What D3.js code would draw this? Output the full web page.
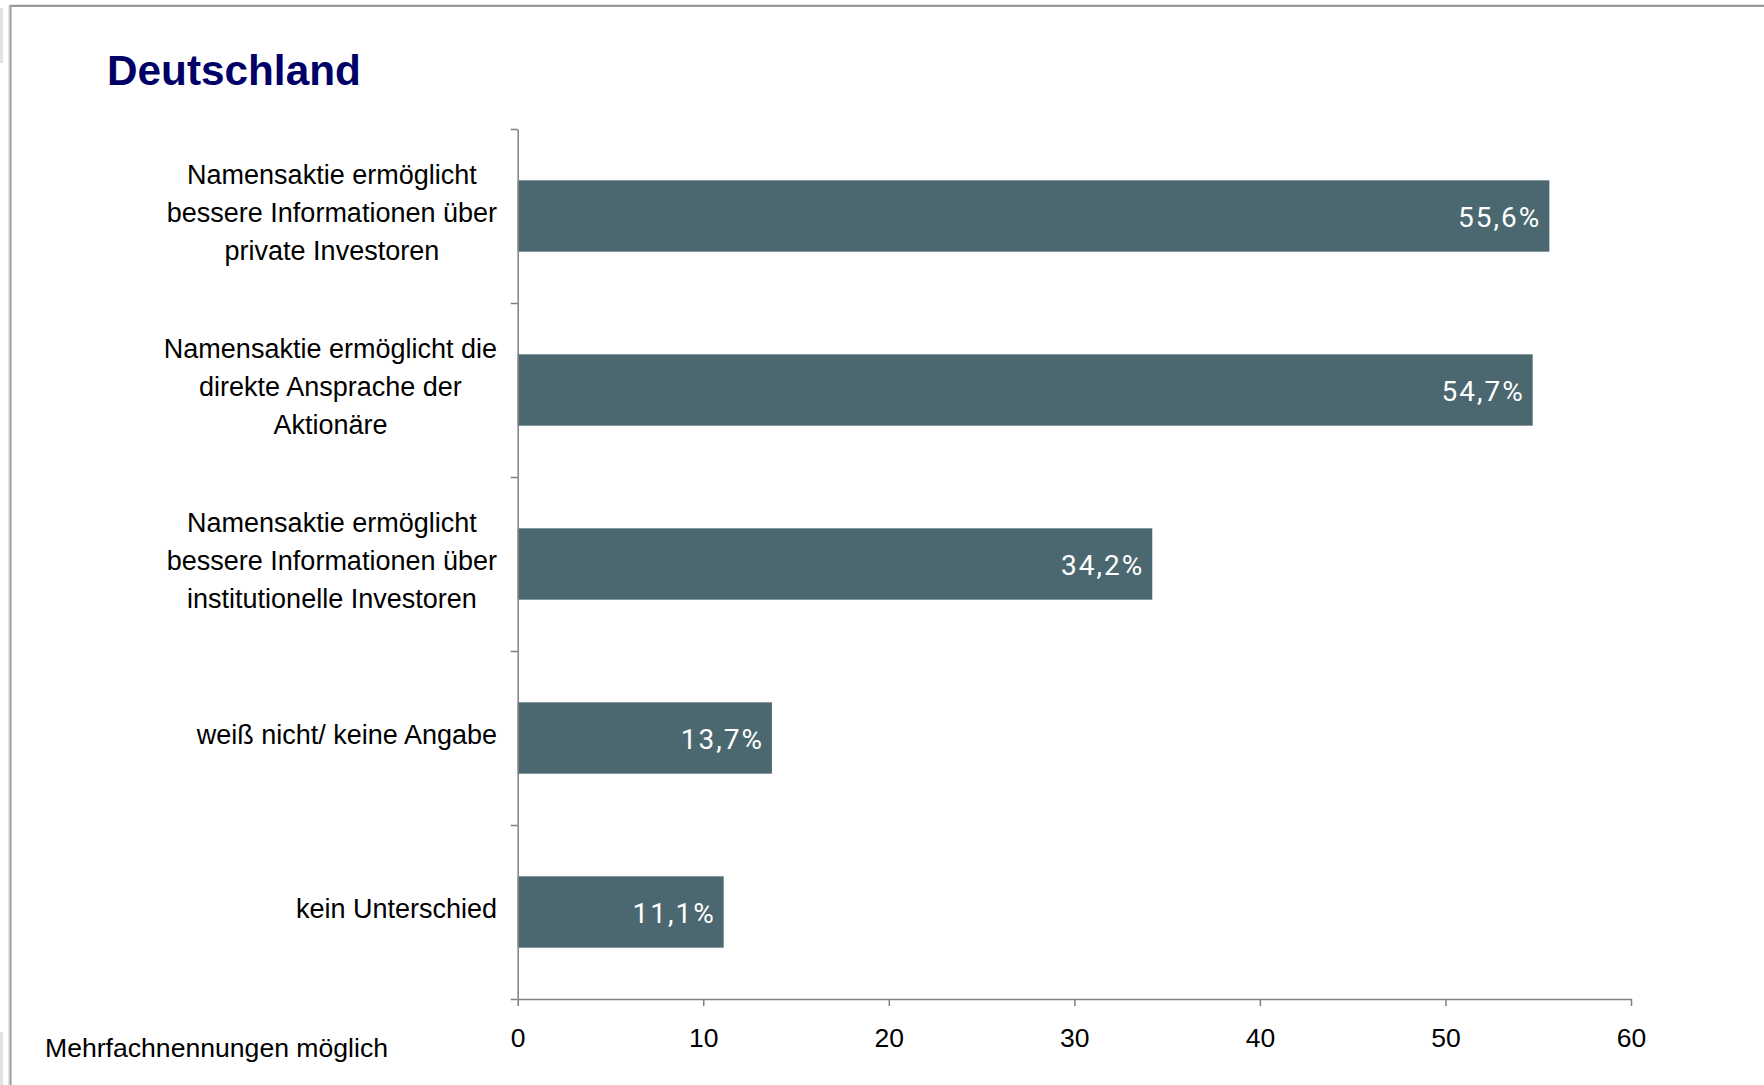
<!DOCTYPE html>
<html>
<head>
<meta charset="utf-8">
<script src="https://cdn.jsdelivr.net/npm/d3@7"></script>
<style>
  html, body { margin: 0; padding: 0; background: #ffffff; }
  svg { display: block; }
</style>
</head>
<body>
<svg id="chart" width="1764" height="1085"></svg>
<script>
// Reasons given for the registered share (multiple answers possible)
const categories = [
  "Namensaktie ermöglicht\nbessere Informationen über\nprivate Investoren",
  "Namensaktie ermöglicht die\ndirekte Ansprache der\nAktionäre",
  "Namensaktie ermöglicht\nbessere Informationen über\ninstitutionelle Investoren",
  "weiß nicht/ keine Angabe",
  "kein Unterschied"
];
const values = [55.6, 54.7, 34.2, 13.7, 11.1];
const xTicks = [0, 10, 20, 30, 40, 50, 60];
const titleText = "Deutschland";
const noteText = "Mehrfachnennungen möglich";

const svg = d3.select("#chart");
const W = 1764, H = 1085;

// German number format: decimal comma
const deLocale = d3.formatLocale({ decimal: ",", thousands: ".", grouping: [3], currency: ["", " €"] });
const fmt = v => deLocale.format(".1f")(v) + "%";

// Page frame
const frame = svg.append("g");
frame.append("rect").attr("x", 0).attr("y", 8).attr("width", 3).attr("height", 55).attr("fill", "#e2e2e2");
frame.append("rect").attr("x", 0).attr("y", 1032).attr("width", 3).attr("height", 53).attr("fill", "#e2e2e2");
frame.append("line").attr("x1", 10).attr("x2", W).attr("y1", 4.5).attr("y2", 4.5)
  .attr("stroke", "#e4e4e4").attr("stroke-width", 1);
frame.append("line").attr("x1", 10).attr("x2", W).attr("y1", 6).attr("y2", 6)
  .attr("stroke", "#9a9a9a").attr("stroke-width", 2);
frame.append("line").attr("x1", 8.5).attr("x2", 8.5).attr("y1", 5).attr("y2", H)
  .attr("stroke", "#e4e4e4").attr("stroke-width", 1);
frame.append("line").attr("x1", 10.5).attr("x2", 10.5).attr("y1", 5).attr("y2", H)
  .attr("stroke", "#9a9a9a").attr("stroke-width", 2);

// Title
svg.append("text")
  .attr("x", 107).attr("y", 85)
  .attr("font-family", "'Liberation Sans', Arial, sans-serif")
  .attr("font-weight", "bold")
  .attr("font-size", 42.3)
  .attr("fill", "#000066")
  .text(titleText);

// Scales
const plotLeft = 517.7, plotRight = 1631, plotTop = 129, plotBottom = 999;
const x = d3.scaleLinear().domain([0, 60]).range([plotLeft, plotRight]);
const y = d3.scaleBand().domain(d3.range(categories.length))
  .range([plotTop, plotBottom]).paddingInner(0.59).paddingOuter(0.295);
const yEdges = d3.scaleLinear().domain([0, categories.length]).range([plotTop, plotBottom]);

// Bars
svg.append("g").selectAll("rect")
  .data(values)
  .join("rect")
  .attr("x", x(0))
  .attr("y", (d, i) => y(i))
  .attr("width", d => x(d) - x(0))
  .attr("height", y.bandwidth())
  .attr("fill", "#4b6870");

// Value labels inside the bars
svg.append("g").selectAll("text")
  .data(values)
  .join("text")
  .attr("x", d => x(d) - 8)
  .attr("y", (d, i) => y(i) + y.bandwidth() / 2 + 10.5)
  .attr("text-anchor", "end")
  .attr("font-family", "Roboto, 'Open Sans', sans-serif")
  .attr("font-size", 28)
  .attr("letter-spacing", "2px")
  .attr("fill", "#ffffff")
  .text(d => fmt(d));

// Category axis: ticks at band boundaries
const yAxis = svg.append("g")
  .attr("transform", `translate(${plotLeft},0)`)
  .call(d3.axisLeft(yEdges).tickValues(d3.range(categories.length + 1))
    .tickSize(7).tickSizeOuter(0).tickFormat(""));
yAxis.select(".domain").attr("stroke", "#808080").attr("stroke-width", 1.5);
yAxis.selectAll(".tick line").attr("stroke", "#808080").attr("stroke-width", 1.5);

// Value axis
const xAxis = svg.append("g")
  .attr("transform", `translate(0,${plotBottom})`)
  .call(d3.axisBottom(x).tickValues(xTicks).tickSize(7).tickSizeOuter(0).tickPadding(0).tickFormat(d3.format("d")));
xAxis.select(".domain").attr("stroke", "#808080").attr("stroke-width", 1.5);
xAxis.selectAll(".tick line").attr("stroke", "#808080").attr("stroke-width", 1.5);
xAxis.selectAll(".tick text")
  .attr("dy", null)
  .attr("y", 47.5)
  .attr("font-family", "'Liberation Sans', Arial, sans-serif")
  .attr("font-size", 26.5)
  .attr("fill", "#000000");

// Category labels: wrapped lines centred within their block, block right-aligned to the axis
const labelRight = 497, lineH = 38;
const labelG = svg.append("g")
  .attr("font-family", "'Liberation Sans', Arial, sans-serif")
  .attr("font-size", 27)
  .attr("fill", "#000000");
categories.forEach((cat, i) => {
  const lines = cat.split("\n");
  const cy = y(i) + y.bandwidth() / 2;
  const texts = lines.map((ln, k) => labelG.append("text")
    .attr("y", cy + 6 + (k - (lines.length - 1) / 2) * lineH)
    .attr("text-anchor", "middle")
    .text(ln));
  const maxW = d3.max(texts, t => t.node().getComputedTextLength());
  texts.forEach(t => t.attr("x", labelRight - maxW / 2));
});

// Footnote
svg.append("text")
  .attr("x", 45).attr("y", 1057)
  .attr("font-family", "'Liberation Sans', Arial, sans-serif")
  .attr("font-size", 26.6)
  .attr("fill", "#000000")
  .text(noteText);
</script>
</body>
</html>
